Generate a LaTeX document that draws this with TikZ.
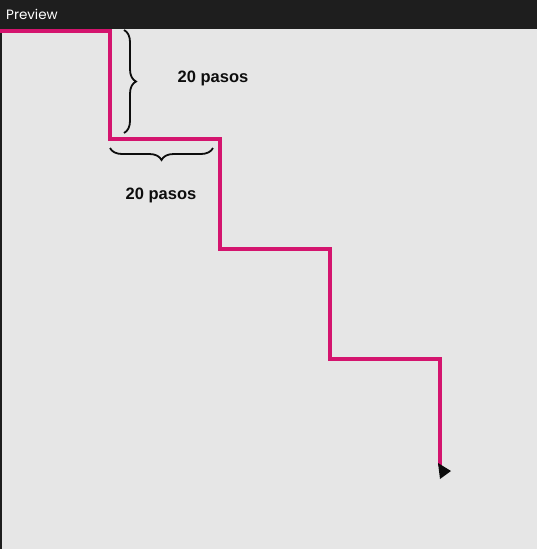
\documentclass[tikz,border=0pt]{standalone}
\usepackage{fontspec}
\setmainfont{Liberation Sans}
\newfontfamily\barfont{Poppins}
\usetikzlibrary{calc,decorations.pathreplacing}
\definecolor{barbg}{RGB}{30,30,30}
\definecolor{canvas}{RGB}{230,230,230}
\definecolor{trail}{RGB}{212,20,110}
\definecolor{ink}{gray}{0.05}

\begin{document}
\begin{tikzpicture}[x=1pt, y=-1pt,
   trailline/.style={draw=trail, line width=3.8pt, line join=miter},
   brc/.style={draw=ink, line width=1.8pt, decorate,
     decoration={brace, amplitude=12pt, aspect=0.5}},
   lbl/.style={font=\bfseries\fontsize{16.5}{18}\selectfont, text=ink}]
  \useasboundingbox (0,0) rectangle (537,549);
  % window bar and canvas
  \fill[canvas] (0,29) rectangle (537,549);
  \fill[barbg] (0,0) rectangle (537,29);
  \draw[barbg, line width=1.5pt] (0.75,29) -- (0.75,549);
  \node[anchor=base west, text=white, font=\barfont\fontsize{13.5}{15}\selectfont, inner sep=0pt] (title) at (6,19) {Preview};
  % stair corners
  \coordinate (p0) at (0,31);
  \coordinate (p1) at (110,31);
  \coordinate (p2) at (110,139);
  \coordinate (p3) at (220,139);
  \coordinate (p4) at (220,249);
  \coordinate (p5) at (330,249);
  \coordinate (p6) at (330,359);
  \coordinate (p7) at (440,359);
  \coordinate (p8) at (440,466);
  \draw[trailline] (p0) -- (p1) -- (p2) -- (p3) -- (p4) -- (p5) -- (p6) -- (p7) -- (p8);
  % turtle head
  \fill[ink] (438,463) -- (451,471) -- (440,479) -- cycle;
  % braces
  \draw[brc] (124,30) -- (124,133);
  \node[lbl] (down) at (213,78) {20 pasos};
  \draw[brc] (213,148) -- (110,148);
  \node[lbl] (across) at (161,195) {20 pasos};
\end{tikzpicture}
\end{document}
